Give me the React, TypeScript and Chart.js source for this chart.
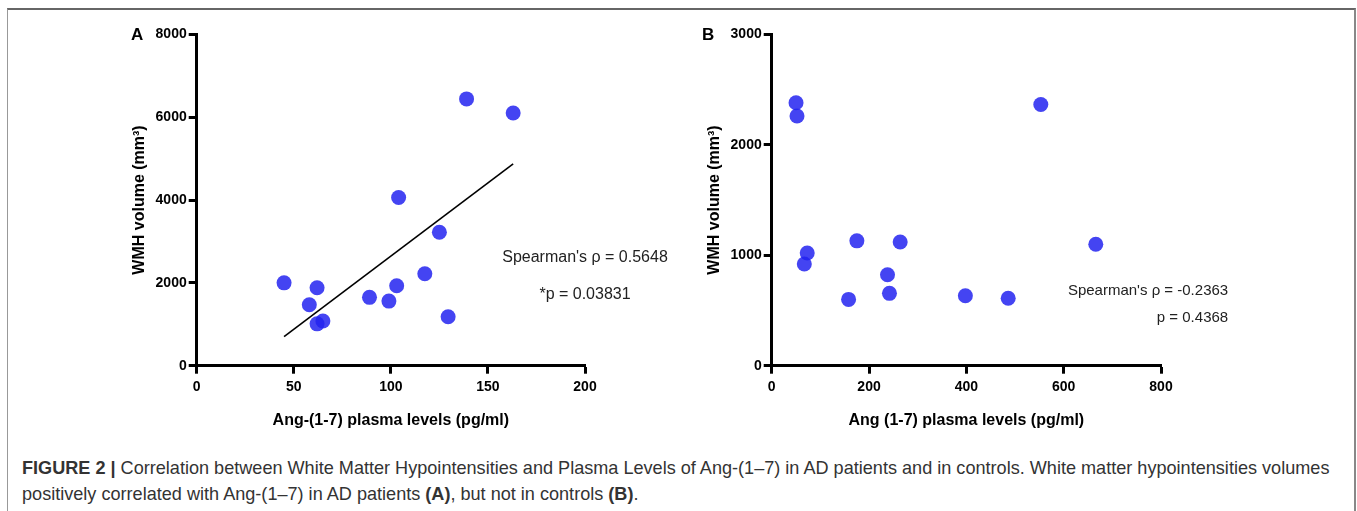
import React, { useEffect, useRef } from "react";
import { Chart, registerables } from "chart.js";

Chart.register(...registerables);

// Panel A: AD patients
const adAng = [45, 62, 58, 62, 65, 89, 99, 103, 104, 117.5, 125, 129.5, 139, 163];
const adWmh = [2000, 1880, 1470, 1010, 1080, 1650, 1560, 1930, 4060, 2220, 3220, 1180, 6440, 6100];
const fitAng = [45, 163];
const fitWmh = [700, 4870];
const ticksAX = [0, 50, 100, 150, 200];
const ticksAY = [0, 2000, 4000, 6000, 8000];
const statTextA = ["Spearman's ρ = 0.5648", "*p = 0.03831"];
const statXA = [200, 200];
const statYA = [2600, 1710];

// Panel B: controls
const ctrlAng = [50, 52, 73, 67, 158, 175, 238, 242, 264, 398, 486, 553, 666];
const ctrlWmh = [2380, 2260, 1020, 920, 600, 1130, 823, 655, 1120, 633, 610, 2365, 1100];
const ticksBX = [0, 200, 400, 600, 800];
const ticksBY = [0, 1000, 2000, 3000];
const statTextB = ["Spearman's ρ = -0.2363", "p = 0.4368"];
const statXB = [938, 938];
const statYB = [675, 431];

const FONT = '"Liberation Sans", Arial, Helvetica, sans-serif';
const DOT = "rgba(35, 35, 240, 0.85)";

const statPlugin = {
  id: "statText",
  afterDraw(chart: any, _args: any, opts: any) {
    const { ctx } = chart;
    const xs = chart.scales.x;
    const ys = chart.scales.y;
    ctx.save();
    ctx.fillStyle = "#222";
    ctx.textBaseline = "middle";
    (opts.texts || []).forEach((t: string, i: number) => {
      ctx.font = `${opts.size}px ${FONT}`;
      ctx.textAlign = opts.align;
      ctx.fillText(t, xs.getPixelForValue(opts.xs[i]), ys.getPixelForValue(opts.ys[i]));
    });
    ctx.restore();
  },
};

type PanelProps = {
  xs: number[];
  ys: number[];
  fitX?: number[];
  fitY?: number[];
  ticksX: number[];
  ticksY: number[];
  xTitle: string;
  yTitle: string;
  yTitlePad: number;
  yAxisWidth: number;
  padRight: number;
  texts: string[];
  textXs: number[];
  textYs: number[];
  textSize: number;
  textAlign: string;
  left: number;
};

const W = 580;
const H = 420;
const PAD_TOP = 24.3;
const AREA_BOTTOM = 355.7;

function Panel(p: PanelProps) {
  const ref = useRef<HTMLCanvasElement | null>(null);
  useEffect(() => {
    if (!ref.current) return;
    const datasets: any[] = [
      {
        data: p.xs.map((x, i) => ({ x, y: p.ys[i] })),
        backgroundColor: DOT,
        borderWidth: 0,
        pointRadius: 7.5,
        pointHoverRadius: 7.5,
      },
    ];
    if (p.fitX && p.fitY) {
      datasets.push({
        data: p.fitX.map((x, i) => ({ x, y: p.fitY![i] })),
        showLine: true,
        borderColor: "#000",
        borderWidth: 1.6,
        pointRadius: 0,
        fill: false,
      });
    }
    const mkAxis = (ticks: number[], title: string, horiz: boolean) => ({
      type: "linear",
      min: ticks[0],
      max: ticks[ticks.length - 1],
      afterBuildTicks: (s: any) => {
        s.ticks = ticks.map((v) => ({ value: v }));
      },
      afterFit: (s: any) => {
        if (horiz) s.height = H - AREA_BOTTOM;
        else s.width = p.yAxisWidth;
      },
      ticks: {
        color: "#000",
        font: { size: 14, weight: "bold", family: FONT },
        padding: horiz ? 5 : 2,
        autoSkip: false,
        maxRotation: 0,
        callback: (v: any) => String(v),
      },
      grid: {
        display: true,
        drawOnChartArea: false,
        drawTicks: true,
        tickLength: 8,
        tickWidth: 3,
        tickColor: "#000",
      },
      border: { display: true, color: "#000", width: 3 },
      title: {
        display: true,
        text: title,
        color: "#000",
        font: { size: 16, weight: "bold", family: FONT },
        padding: { top: horiz ? 9.4 : p.yTitlePad, bottom: 0 },
      },
    });
    const chart = new Chart(ref.current, {
      type: "scatter",
      data: { datasets },
      options: {
        animation: false,
        responsive: false,
        devicePixelRatio: 1,
        layout: { padding: { top: PAD_TOP, right: p.padRight, left: 0, bottom: 0 } },
        plugins: {
          legend: { display: false },
          tooltip: { enabled: false },
          statText: {
            texts: p.texts,
            xs: p.textXs,
            ys: p.textYs,
            size: p.textSize,
            align: p.textAlign,
          },
        } as any,
        scales: {
          x: mkAxis(p.ticksX, p.xTitle, true) as any,
          y: mkAxis(p.ticksY, p.yTitle, false) as any,
        },
      },
      plugins: [statPlugin],
    });
    return () => chart.destroy();
  }, []);
  return (
    <canvas
      ref={ref}
      width={W}
      height={H}
      style={{ position: "absolute", left: p.left, top: 10, width: W, height: H }}
    />
  );
}

export default function App() {
  return (
    <div
      style={{
        position: "fixed",
        left: 0,
        top: 0,
        width: 1357,
        height: 511,
        overflow: "hidden",
        background: "#fff",
        fontFamily: FONT,
      }}
    >
      <div
        style={{
          position: "absolute",
          left: 7,
          top: 8,
          width: 1346,
          height: 600,
          borderTop: "2px solid #666",
          borderLeft: "1px solid #999",
          borderRight: "2px solid #888",
        }}
      />
      <Panel
        xs={adAng}
        ys={adWmh}
        fitX={fitAng}
        fitY={fitWmh}
        ticksX={ticksAX}
        ticksY={ticksAY}
        xTitle="Ang-(1-7) plasma levels (pg/ml)"
        yTitle="WMH volume (mm³)"
        yTitlePad={30.4}
        yAxisWidth={96.7}
        padRight={95}
        texts={statTextA}
        textXs={statXA}
        textYs={statYA}
        textSize={16}
        textAlign="center"
        left={100}
      />
      <Panel
        xs={ctrlAng}
        ys={ctrlWmh}
        ticksX={ticksBX}
        ticksY={ticksBY}
        xTitle="Ang (1-7) plasma levels (pg/ml)"
        yTitle="WMH volume (mm³)"
        yTitlePad={25.4}
        yAxisWidth={91.7}
        padRight={99}
        texts={statTextB}
        textXs={statXB}
        textYs={statYB}
        textSize={15}
        textAlign="right"
        left={680}
      />
      <div style={{ position: "absolute", left: 131, top: 25, fontSize: 17, fontWeight: "bold", color: "#000" }}>A</div>
      <div style={{ position: "absolute", left: 702, top: 25, fontSize: 17, fontWeight: "bold", color: "#000" }}>B</div>
      <div
        style={{
          position: "absolute",
          left: 22,
          top: 455,
          fontSize: 18.1,
          lineHeight: "26px",
          color: "#333",
          whiteSpace: "nowrap",
        }}
      >
        <b>FIGURE 2 |</b> Correlation between White Matter Hypointensities and Plasma Levels of Ang-(1–7) in AD
        patients and in controls. White matter hypointensities volumes
        <br />
        positively correlated with Ang-(1–7) in AD patients <b>(A)</b>, but not in controls <b>(B)</b>.
      </div>
    </div>
  );
}
